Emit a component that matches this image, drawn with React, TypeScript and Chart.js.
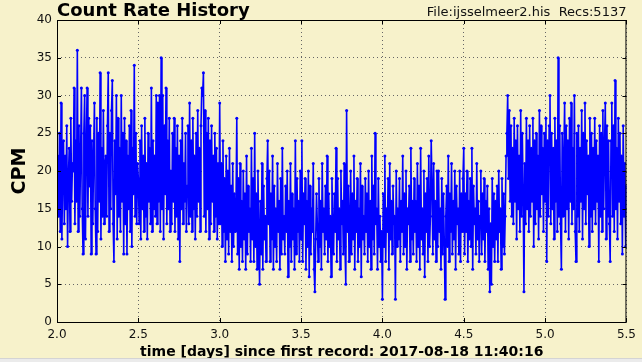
import React, { useEffect, useRef } from 'react';
import { Chart, registerables } from 'chart.js';

Chart.register(...registerables);

// ---- data (one record every TIME_STEP days, starting at TIME_START) ----
const TIME_START = 2.0;
const TIME_STEP = 0.005;

const CPM_2_0 = [
  17,22,14,25,12,29,11,20,24,13,22,15,26,10,19,23,12,27,16,21,
  20,31,13,24,16,36,12,26,14,22,31,15,9,25,30,11,23,31,14,27,
  18,26,9,24,13,22,29,15,9,27,12,25,16,33,11,23,14,28,13,21,
  22,14,26,33,12,25,15,28,32,13,8,24,17,30,11,27,14,23,12,30,
  16,25,9,27,13,24,9,22,15,26,12,28,10,23,17,34,14,25,13,21,
];
const CPM_2_5 = [
  19,13,24,11,26,15,22,12,27,14,21,11,25,16,23,13,31,12,24,15,
  22,14,30,13,29,16,30,12,35,15,30,11,26,17,31,13,24,15,27,12,
  20,13,25,16,27,12,23,14,26,11,22,8,24,15,27,13,21,16,25,12,
  18,26,13,29,14,24,12,27,15,22,11,25,14,28,16,23,12,26,31,30,
  33,14,28,12,25,15,27,11,24,13,26,16,22,12,25,14,23,11,21,13,
];
const CPM_3_0 = [
  29,13,21,10,24,12,19,8,22,11,20,9,23,12,18,8,21,10,17,12,
  15,27,9,19,7,21,10,16,8,20,11,17,7,22,9,18,12,15,8,23,
  11,19,8,25,10,17,7,20,12,5,16,9,21,7,18,11,14,8,19,24,
  13,20,8,17,11,22,7,18,10,15,8,21,12,16,7,19,9,23,11,14,
  9,18,12,20,6,16,10,21,8,17,11,15,7,24,9,19,12,16,8,20,
];
const CPM_3_5 = [
  11,24,8,17,13,19,7,16,10,20,6,18,9,15,12,21,7,4,11,17,
  13,8,19,10,16,7,21,12,15,9,18,11,22,8,17,10,14,6,19,12,
  9,17,12,23,8,19,11,15,7,20,13,16,9,21,10,5,28,12,18,8,
  14,20,9,17,11,22,7,16,12,19,8,15,10,21,6,18,11,14,9,19,
  12,17,8,20,10,16,7,22,11,18,9,25,13,15,7,19,10,14,8,12,
];
const CPM_4_0 = [
  3,17,10,22,8,15,12,19,7,21,11,16,9,18,13,14,3,20,10,15,
  11,19,8,16,12,22,9,17,10,20,7,15,13,18,8,23,11,16,9,19,
  12,16,8,21,10,18,7,23,11,15,9,20,6,17,12,19,8,22,10,14,
  24,18,9,21,11,16,8,20,10,20,12,15,7,19,9,17,11,3,14,18,
  10,22,8,17,12,21,9,16,11,20,7,18,13,15,9,20,8,17,12,19,
];
const CPM_4_5 = [
  23,9,17,12,20,8,16,11,19,10,23,7,18,13,15,9,21,11,16,8,
  14,20,9,17,11,19,8,16,12,18,7,15,4,13,5,19,10,17,8,16,
  11,18,8,20,12,15,7,19,10,17,9,14,22,25,30,19,28,16,26,14,
  23,13,27,16,24,11,26,15,22,12,28,14,25,17,4,21,13,27,15,24,
  12,26,14,23,16,27,10,24,13,25,15,22,11,28,14,26,17,23,12,25,
];
const CPM_5_0 = [
  16,27,8,24,14,26,30,13,25,15,23,11,27,16,24,12,35,14,26,13,
  7,25,14,22,29,12,26,15,24,11,27,16,29,13,23,15,30,12,8,25,
  14,26,12,23,16,28,11,25,15,29,13,24,17,22,10,27,14,25,12,23,
  15,27,13,24,16,22,8,26,14,25,12,28,15,23,29,11,26,14,24,13,
  8,24,29,14,26,12,32,15,23,11,27,16,25,13,22,9,26,14,21,10,
];
const CPM_END = [18];

const X_TICKS = [2.0, 2.5, 3.0, 3.5, 4.0, 4.5, 5.0, 5.5];
const Y_TICKS = [0, 5, 10, 15, 20, 25, 30, 35, 40];

const TITLE = 'Count Rate History';
const FILE_INFO = 'File:ijsselmeer2.his  Recs:5137';
const X_LABEL = 'time [days] since first record: 2017-08-18 11:40:16';
const Y_LABEL = 'CPM';

const FONT = '"DejaVu Sans", Verdana, sans-serif';
const BG = '#f7f2cb';

const framePlugin = {
  id: 'frameAndText',
  afterDraw(chart: any) {
    const { ctx, chartArea: a, scales } = chart;
    const xs = scales.x;
    const ys = scales.y;
    ctx.save();
    ctx.strokeStyle = '#000';
    ctx.lineWidth = 1;
    ctx.strokeRect(a.left + 0.5, a.top + 0.5, a.right - a.left - 1, a.bottom - a.top);
    ctx.beginPath();
    const tl = 4;
    for (const v of Y_TICKS) {
      const py = Math.round(ys.getPixelForValue(v)) + 0.5;
      ctx.moveTo(a.left, py); ctx.lineTo(a.left + tl, py);
      ctx.moveTo(a.right, py); ctx.lineTo(a.right - tl, py);
    }
    for (const v of X_TICKS) {
      const px = Math.round(xs.getPixelForValue(v)) + 0.5;
      ctx.moveTo(px, a.bottom); ctx.lineTo(px, a.bottom - tl);
      ctx.moveTo(px, a.top); ctx.lineTo(px, a.top + tl);
    }
    ctx.stroke();

    ctx.fillStyle = '#000';
    ctx.textBaseline = 'alphabetic';
    ctx.textAlign = 'left';
    ctx.font = `bold 18px ${FONT}`;
    ctx.fillText(TITLE, a.left, 16);
    ctx.fillStyle = '#111';
    ctx.textAlign = 'right';
    ctx.font = `13px ${FONT}`;
    ctx.fillText(FILE_INFO, a.right, 16);
    ctx.restore();
  },
};

export default function App() {
  const ref = useRef<HTMLCanvasElement | null>(null);

  useEffect(() => {
    const cpm = [
      ...CPM_2_0, ...CPM_2_5, ...CPM_3_0, ...CPM_3_5,
      ...CPM_4_0, ...CPM_4_5, ...CPM_5_0, ...CPM_END,
    ];
    const points = cpm.map((v, i) => ({ x: TIME_START + i * TIME_STEP, y: v }));

    const chart = new Chart(ref.current as HTMLCanvasElement, {
      type: 'line',
      data: {
        datasets: [
          {
            data: points,
            borderColor: '#0000ff',
            backgroundColor: '#0000ff',
            borderWidth: 1.6,
            pointRadius: 1.5,
            pointBorderWidth: 0,
            pointBackgroundColor: '#0000ff',
            tension: 0,
          },
        ],
      },
      options: {
        responsive: false,
        animation: false,
        events: [],
        layout: { padding: { left: 0, right: 15, top: 20, bottom: 0 } },
        plugins: {
          legend: { display: false },
          tooltip: { enabled: false },
          title: { display: false },
        },
        scales: {
          x: {
            type: 'linear',
            min: 2.0,
            max: 5.5,
            afterBuildTicks: (s: any) => {
              s.ticks = X_TICKS.map((v) => ({ value: v }));
            },
            afterFit: (s: any) => {
              s.height = 40;
            },
            ticks: {
              color: '#111',
              font: { family: FONT, size: 12 },
              padding: 6,
              maxRotation: 0,
              autoSkip: false,
              callback: (v: any) => Number(v).toFixed(1),
            },
            grid: { color: '#666', lineWidth: 1, drawTicks: false },
            border: { display: false, dash: [1, 3] },
            title: {
              display: true,
              text: X_LABEL,
              color: '#000',
              font: { family: FONT, size: 14, weight: 'bold' },
              padding: { top: 0, bottom: 1 },
            },
          },
          y: {
            type: 'linear',
            min: 0,
            max: 40,
            afterBuildTicks: (s: any) => {
              s.ticks = Y_TICKS.map((v) => ({ value: v }));
            },
            afterFit: (s: any) => {
              s.width = 57;
            },
            ticks: {
              color: '#111',
              font: { family: FONT, size: 12 },
              padding: 5,
              autoSkip: false,
            },
            grid: { color: '#666', lineWidth: 1, drawTicks: false },
            border: { display: false, dash: [1, 3] },
            title: {
              display: true,
              text: Y_LABEL,
              color: '#000',
              font: { family: FONT, size: 19, weight: 'bold' },
              padding: { top: 9, bottom: 0 },
            },
          },
        },
      },
      plugins: [framePlugin],
    });
    return () => chart.destroy();
  }, []);

  return (
    <div style={{ position: 'fixed', left: 0, top: 0, width: 642, height: 362, background: BG, overflow: 'hidden' }}>
      <canvas ref={ref} width={642} height={362} style={{ display: 'block' }} />
      <div
        style={{
          position: 'absolute', left: 0, top: 358, width: 642, height: 4,
          background: '#ebebeb', borderTop: '1px solid #d4d4d4', boxSizing: 'border-box',
        }}
      />
    </div>
  );
}
